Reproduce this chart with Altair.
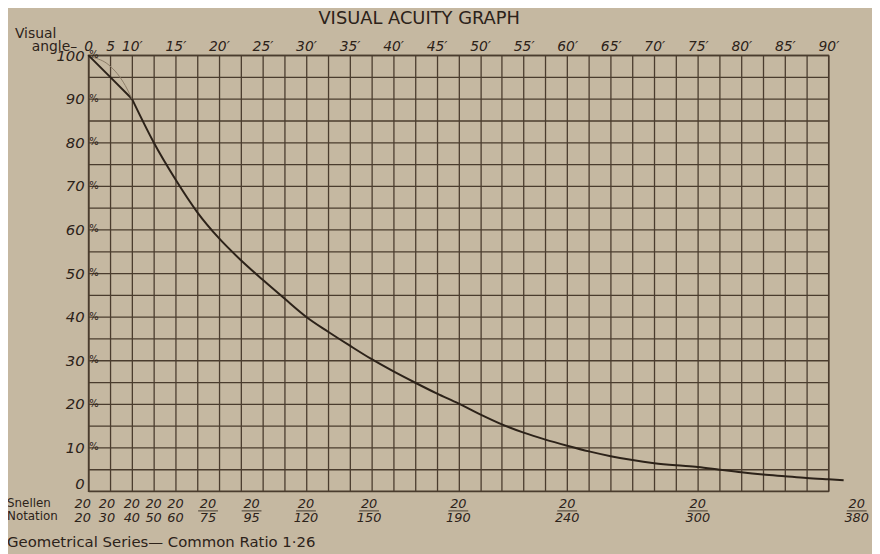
import altair as alt
import pandas as pd

# ---- data ----
# main curve: visual angle (minutes) vs visual acuity (%)
curve_a_min = [0, 5, 10]
curve_a_pct = [100, 95, 90]
curve_b_min = [10, 12.5, 15, 17.5, 20, 22.5, 25, 27.5, 30, 32.5, 35, 37.5, 40, 42.5, 45,
               47.5, 50, 52.5, 55, 57.5, 60, 62.5, 65, 67.5, 70, 72.5, 75, 77.5, 80,
               82.5, 85, 87.5, 90, 91.75]
curve_b_pct = [90, 80, 71.5, 64, 58, 53, 48.5, 44.2, 40, 36.6, 33.4, 30.3, 27.5, 24.9,
               22.4, 20.1, 17.6, 15.3, 13.4, 11.8, 10.4, 9.1, 8.0, 7.1, 6.4, 5.9, 5.5, 4.9,
               4.3, 3.8, 3.4, 3.0, 2.7, 2.5]
# faint construction line at the top left
faint_min = [1, 4.75, 8.5, 10]
faint_pct = [99.5, 97.7, 93, 90]

# Snellen notation labels under the grid
snellen_num = ["20"] * 13
snellen_den = ["20", "30", "40", "50", "60", "75", "95", "120", "150", "190", "240", "300", "380"]
snellen_min = [-1.25, 4.3, 10, 12.5, 15, 18.75, 23.75, 30, 37.25, 47.5, 60, 75, 93.25]
snellen_bar = [False, False, False, False, False, True, True, True, True, True, True, True, True]

x_ticks = [0, 5] + [10 + 2.5 * i for i in range(33)]
y_ticks = list(range(0, 101, 5))
pct_marks = list(range(10, 101, 10))

title_text = "VISUAL ACUITY GRAPH"
footer_text = "Geometrical Series\u2014 Common Ratio 1\u00b726"

INK = "#2c2219"
GRID = "#4a3c2e"
BG = "#c5b8a1"
FONT = "DejaVu Sans"

xscale = alt.Scale(domain=[0, 10, 90], range=[0, 44, 747], nice=False, zero=False)
yscale = alt.Scale(domain=[0, 100], nice=False, zero=False)

xaxis = alt.Axis(orient="top", values=x_ticks, title=None, grid=True, ticks=False,
                 labelExpr="datum.value < 10 ? datum.value : (datum.value % 5 == 0 ? datum.value + '\u2032' : '')",
                 labelFont=FONT, labelFontSize=14, labelFontStyle="italic", labelColor=INK,
                 labelPadding=2, labelOverlap=False, labelFlush=False, labelBound=False,
                 domainColor=GRID, domainWidth=1.5, gridColor=GRID, gridWidth=1.3, gridOpacity=1)
yaxis = alt.Axis(values=y_ticks, title=None, grid=True, ticks=False,
                 labelExpr="datum.value % 10 == 0 ? datum.value : ''",
                 labelFont=FONT, labelFontSize=15, labelFontStyle="italic", labelColor=INK,
                 labelPadding=4, labelOverlap=False, labelBound=False,
                 labelBaseline={"condition": {"test": "datum.value == 0", "value": "bottom"}, "value": "middle"},
                 domainColor=GRID, domainWidth=1.5, gridColor=GRID, gridWidth=1.3, gridOpacity=1)

X = alt.X("m:Q", scale=xscale, axis=xaxis)
Y = alt.Y("p:Q", scale=yscale, axis=yaxis)

df_a = pd.DataFrame({"m": curve_a_min, "p": curve_a_pct})
df_b = pd.DataFrame({"m": curve_b_min, "p": curve_b_pct})
df_f = pd.DataFrame({"m": faint_min, "p": faint_pct})
df_s = pd.DataFrame({"m": snellen_min, "num": snellen_num, "den": snellen_den, "bar": snellen_bar})
df_pct = pd.DataFrame({"p": pct_marks, "t": ["%"] * len(pct_marks)})

line_a = alt.Chart(df_a).mark_line(color=INK, strokeWidth=2, clip=False).encode(x=X, y=Y)
line_b = alt.Chart(df_b).mark_line(color=INK, strokeWidth=2, interpolate="monotone", clip=False).encode(x=X, y=Y)
faint = alt.Chart(df_f).mark_line(color="#8c7c68", strokeWidth=1, interpolate="monotone").encode(x=X, y=Y)

pct = alt.Chart(df_pct).mark_text(font=FONT, fontSize=10, color=INK, align="left", baseline="middle").encode(
    x=alt.value(1), y=alt.Y("p:Q", scale=yscale, axis=yaxis), text="t:N")

s_num = alt.Chart(df_s).mark_text(font=FONT, fontSize=13, fontStyle="italic", color=INK, baseline="middle").encode(
    x=X, y=alt.value(453), text="num:N")
s_den = alt.Chart(df_s).mark_text(font=FONT, fontSize=13, fontStyle="italic", color=INK, baseline="middle").encode(
    x=X, y=alt.value(467), text="den:N")
s_bar = alt.Chart(df_s).transform_filter("datum.bar").mark_tick(
    orient="horizontal", color=INK, thickness=1.2, size=20).encode(x=X, y=alt.value(460))


def label(txt, x, y, size, align="left", style="normal"):
    return alt.Chart(pd.DataFrame({"t": [txt]})).mark_text(
        font=FONT, fontSize=size, color=INK, align=align, baseline="middle", fontStyle=style
    ).encode(x=alt.value(x), y=alt.value(y), text="t:N")


notes = [
    label(title_text, 334, -36, 18, align="center"),
    label("Visual", -74, -21, 14),
    label("angle\u2013", -57, -8, 14),
    label("Snellen", -82, 452, 12),
    label("Notation", -82, 465, 12),
    label(footer_text, -82, 491, 15),
]

chart = alt.layer(line_a, line_b, faint, pct, s_num, s_den, s_bar, *notes).properties(
    width=747, height=440,
    padding={"left": 81, "top": 45, "right": 44, "bottom": 61},
    autosize="none",
    background=BG,
).configure_view(stroke=GRID, strokeWidth=1.3, fill=BG)

chart.save("out.html", embed_options={"renderer": "svg", "actions": False})
